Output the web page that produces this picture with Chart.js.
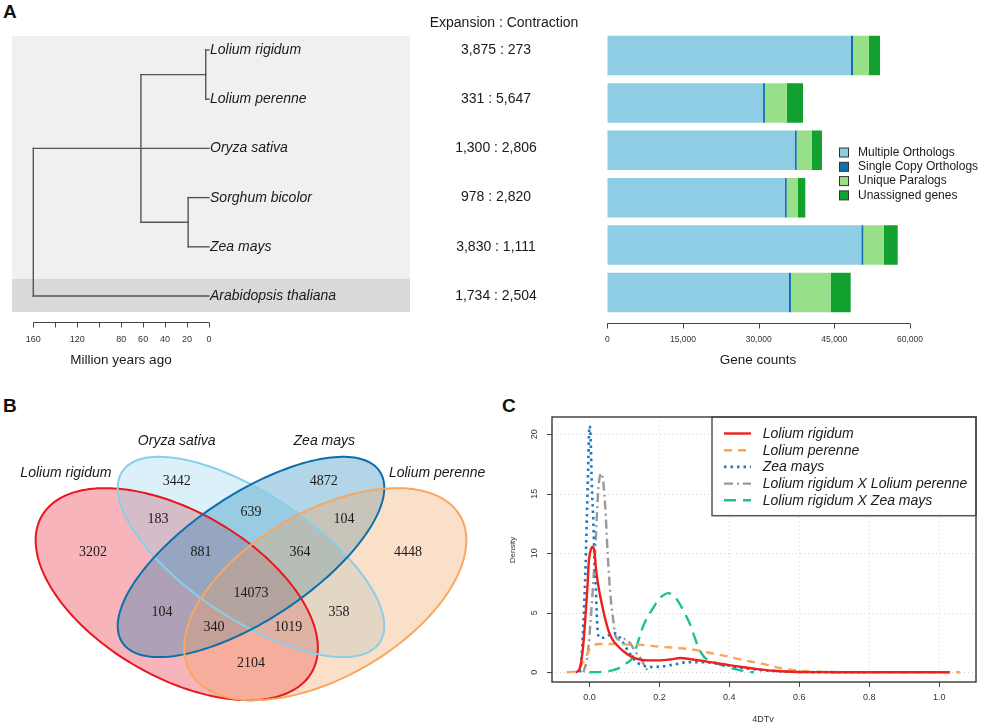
<!DOCTYPE html>
<html>
<head>
<meta charset="utf-8">
<script src="https://cdn.jsdelivr.net/npm/chart.js@4.4.1/dist/chart.umd.min.js"></script>
<style>
  body { margin: 0; background: #fff; width: 982px; height: 726px; position: relative; overflow: hidden;
         font-family: 'Liberation Sans', Arial, sans-serif; color: #111; }
  canvas { position: absolute; }
  .panel { position: absolute; font-weight: bold; font-size: 19px; line-height: 19px; }
</style>
</head>
<body>
<div class="panel" style="left:3px;top:2px">A</div>
<div class="panel" style="left:3px;top:396px">B</div>
<div class="panel" style="left:502px;top:396px">C</div>

<canvas id="chart-tree" width="590" height="380" style="left:0;top:0"></canvas>
<canvas id="chart-genes" width="392" height="380" style="left:590px;top:0"></canvas>
<canvas id="chart-venn" width="520" height="346" style="left:0;top:380px"></canvas>
<canvas id="chart-density" width="482" height="331" style="left:500px;top:395px"></canvas>

<script>
// ---- data: panel A ----
const species = ['Lolium rigidum', 'Lolium perenne', 'Oryza sativa', 'Sorghum bicolor', 'Zea mays', 'Arabidopsis thaliana'];
const expansion = [3875, 331, 1300, 978, 3830, 1734];
const contraction = [273, 5647, 2806, 2820, 1111, 2504];
// divergence times (million years ago): Lolium split, Sorghum/Zea split, grass split, root
const treeNodeAges = [3, 19, 62, 160];
const treeTicks = [160, 140, 120, 100, 80, 60, 40, 20, 0];
const treeTickLabels = ['160', '', '120', '', '80', '60', '40', '20', '0'];

const geneGroups = ['Multiple Orthologs', 'Single Copy Orthologs', 'Unique Paralogs', 'Unassigned genes'];
const multiOrtho = [48300, 30870, 37140, 35160, 50350, 36010];
const singleOrtho = [400, 370, 400, 400, 400, 390];
const uniqueParalogs = [3160, 4360, 3030, 2240, 4030, 7870];
const unassigned = [2200, 3190, 1980, 1450, 2780, 3970];
const geneTicks = [0, 15000, 30000, 45000, 60000];

// ---- data: panel B (Venn) ----
const setNames = ['Lolium rigidum', 'Oryza sativa', 'Zea mays', 'Lolium perenne'];
const setLabelX = [0.126, 0.35, 0.648, 0.876];
const setLabelY = [0.796, 0.882, 0.882, 0.796];
const ellipseCx = [0.35, 0.5, 0.5, 0.65];
const ellipseCy = [0.47, 0.57, 0.57, 0.47];
const ellipseA = [0.35, 0.35, 0.35, 0.35];
const ellipseB = [0.2, 0.15, 0.15, 0.2];
const ellipseRot = [135, 135, 45, 45];
const regionCounts = [3202, 3442, 4872, 4448, 183, 639, 104, 881, 364, 14073, 104, 358, 340, 1019, 2104];
const regionX = [0.181, 0.350, 0.647, 0.817, 0.312, 0.500, 0.688, 0.399, 0.599, 0.500, 0.320, 0.678, 0.425, 0.575, 0.500];
const regionY = [0.583, 0.772, 0.772, 0.583, 0.672, 0.691, 0.672, 0.583, 0.583, 0.473, 0.422, 0.422, 0.382, 0.382, 0.285];

// ---- data: panel C (4DTv density) ----
const rigidumX = [-0.04, -0.033, -0.025, -0.018, -0.012, -0.006, -0.002, 0.005, 0.01, 0.015, 0.019, 0.027, 0.035, 0.045, 0.054, 0.065, 0.083, 0.1, 0.121, 0.145, 0.17, 0.2, 0.23, 0.26, 0.29, 0.335, 0.38, 0.43, 0.48, 0.525, 0.6, 0.7, 0.8, 1.03];
const rigidumY = [0, 0.1, 0.6, 2.2, 4.4, 7.0, 9.2, 10.4, 10.55, 10.0, 8.6, 7.0, 5.8, 4.5, 3.55, 2.8, 2.15, 1.7, 1.3, 1.07, 1.0, 1.0, 1.07, 1.2, 1.1, 0.9, 0.7, 0.47, 0.27, 0.13, 0.03, 0.01, 0, 0];
const perenneX = [-0.065, -0.045, -0.03, -0.015, 0.0, 0.015, 0.03, 0.06, 0.1, 0.15, 0.2, 0.25, 0.29, 0.35, 0.4, 0.43, 0.47, 0.5, 0.526, 0.55, 0.6, 0.65, 0.7, 0.8, 0.9, 1.06];
const perenneY = [0, 0.05, 0.3, 1.0, 1.9, 2.3, 2.38, 2.38, 2.35, 2.3, 2.15, 2.05, 1.93, 1.6, 1.3, 1.09, 0.85, 0.68, 0.47, 0.33, 0.13, 0.05, 0.02, 0.01, 0, 0];
const zeaX = [-0.027, -0.022, -0.016, -0.011, -0.007, -0.003, 0.0, 0.003, 0.007, 0.011, 0.014, 0.018, 0.024, 0.03, 0.04, 0.055, 0.07, 0.085, 0.1, 0.115, 0.13, 0.15, 0.18, 0.21, 0.25, 0.28, 0.32, 0.36, 0.4, 0.45, 0.5, 0.55, 0.6, 0.7, 0.8];
const zeaY = [0, 1.5, 5.0, 9.0, 13.5, 18.0, 20.7, 20.0, 15.6, 12.8, 10.0, 7.2, 3.3, 2.9, 2.9, 3.1, 3.3, 3.0, 2.3, 1.6, 1.0, 0.6, 0.45, 0.5, 0.7, 0.85, 0.85, 0.75, 0.55, 0.32, 0.17, 0.08, 0.03, 0.01, 0];
const rigPerX = [-0.017, -0.005, 0.005, 0.016, 0.026, 0.035, 0.045, 0.052, 0.06, 0.068, 0.075, 0.09, 0.1, 0.115, 0.13, 0.15, 0.16, 0.175];
const rigPerY = [0, 1.5, 5.0, 10.0, 15.6, 16.7, 14.0, 10.0, 6.5, 4.4, 3.0, 2.7, 2.8, 2.5, 1.8, 1.0, 0.4, 0];
const rigZeaX = [0, 0.04, 0.07, 0.09, 0.105, 0.12, 0.135, 0.15, 0.165, 0.18, 0.195, 0.21, 0.225, 0.24, 0.255, 0.27, 0.285, 0.3, 0.31, 0.32, 0.335, 0.36, 0.39, 0.42, 0.45, 0.47];
const rigZeaY = [0, 0.05, 0.2, 0.45, 0.75, 1.1, 2.2, 3.6, 4.6, 5.3, 6.0, 6.45, 6.65, 6.45, 5.9, 5.1, 4.2, 3.0, 2.2, 1.6, 1.1, 0.8, 0.5, 0.25, 0.06, 0];
const densityLabels = ['Lolium rigidum', 'Lolium perenne', 'Zea mays', 'Lolium rigidum X Lolium perenne', 'Lolium rigidum X Zea mays'];
const densityXTicks = [0, 0.2, 0.4, 0.6, 0.8, 1.0];
const densityYTicks = [0, 5, 10, 15, 20];

Chart.defaults.font.family = "'Liberation Sans', Arial, sans-serif";
Chart.defaults.animation = false;
Chart.defaults.plugins.legend.display = false;
Chart.defaults.plugins.tooltip.enabled = false;

const TXT = '#1a1a1a';
const fmt = n => n.toLocaleString('en-US');
const zip = (xs, ys) => xs.map((x, i) => ({ x, y: ys[i] }));

// =============== A: tree ===============
const [tLol, tPan, tGrass, tRoot] = treeNodeAges;
const seg = (x1, y1, x2, y2) => ({
    data: [{ x: x1, y: y1 }, { x: x2, y: y2 }],
    showLine: true, borderColor: '#555', borderWidth: 1.4, pointRadius: 0, borderCapStyle: 'square'
});
const lolMid = 1.5, panMid = 4.5;
const treeSegments = [
    seg(tLol, 1, 0, 1), seg(tLol, 2, 0, 2), seg(tLol, 1, tLol, 2), seg(tGrass, lolMid, tLol, lolMid),
    seg(tPan, 4, 0, 4), seg(tPan, 5, 0, 5), seg(tPan, 4, tPan, 5), seg(tGrass, panMid, tPan, panMid),
    seg(tGrass, lolMid, tGrass, panMid),
    seg(tRoot, 3, 0, 3), seg(tRoot, 3, tRoot, 6), seg(tRoot, 6, 0, 6)
];

const treeDecor = {
    id: 'treeDecor',
    beforeDatasetsDraw(chart) {
        const { ctx, chartArea: a, scales: { y } } = chart;
        const split = y.getPixelForValue(species.length - 0.35);
        ctx.save();
        ctx.fillStyle = '#f0f0f0';
        ctx.fillRect(a.left, a.top, a.right - a.left, split - a.top);
        ctx.fillStyle = '#d9d9d9';
        ctx.fillRect(a.left, split, a.right - a.left, a.bottom - split);
        ctx.restore();
    },
    afterDraw(chart) {
        const { ctx, scales: { x, y } } = chart;
        ctx.save();
        ctx.fillStyle = TXT;
        ctx.textBaseline = 'middle';
        // species names
        ctx.font = "italic 14px 'Liberation Sans', Arial, sans-serif";
        ctx.textAlign = 'left';
        species.forEach((s, i) => ctx.fillText(s, x.getPixelForValue(0) + 1, y.getPixelForValue(i + 1)));
        // expansion : contraction
        ctx.font = "14px 'Liberation Sans', Arial, sans-serif";
        ctx.textAlign = 'center';
        ctx.fillText('Expansion : Contraction', 504, 23);
        species.forEach((s, i) => ctx.fillText(fmt(expansion[i]) + ' : ' + fmt(contraction[i]), 496, y.getPixelForValue(i + 1)));
        // time axis
        const axY = 322.5;
        ctx.strokeStyle = '#444';
        ctx.lineWidth = 1;
        ctx.beginPath();
        ctx.moveTo(x.getPixelForValue(treeTicks[0]), axY);
        ctx.lineTo(x.getPixelForValue(treeTicks[treeTicks.length - 1]), axY);
        treeTicks.forEach(t => {
            const px = Math.round(x.getPixelForValue(t)) + 0.5;
            ctx.moveTo(px, axY); ctx.lineTo(px, axY + 5);
        });
        ctx.stroke();
        ctx.font = "9px 'Liberation Sans', Arial, sans-serif";
        ctx.fillStyle = '#333';
        treeTicks.forEach((t, i) => ctx.fillText(treeTickLabels[i], x.getPixelForValue(t), 340));
        ctx.font = "13.5px 'Liberation Sans', Arial, sans-serif";
        ctx.fillStyle = TXT;
        ctx.fillText('Million years ago', 121, 360);
        ctx.restore();
    }
};

new Chart(document.getElementById('chart-tree'), {
    type: 'scatter',
    data: { datasets: treeSegments },
    options: {
        responsive: false,
        layout: { padding: { left: 12, top: 36, right: 180, bottom: 68 } },
        scales: {
            x: { type: 'linear', reverse: true, min: -183, max: 179.4, display: false },
            y: { type: 'linear', reverse: true, min: 0.715, max: 6.325, display: false }
        }
    },
    plugins: [treeDecor]
});

// =============== A: gene counts ===============
const geneColors = ['#8ecde4', '#0f6fb0', '#98df8a', '#12a02f'];
const geneSeries = [multiOrtho, singleOrtho, uniqueParalogs, unassigned];

const geneDecor = {
    id: 'geneDecor',
    afterDraw(chart) {
        const { ctx, scales: { x } } = chart;
        ctx.save();
        const axY = 323.5;
        ctx.strokeStyle = '#444';
        ctx.lineWidth = 1;
        ctx.beginPath();
        ctx.moveTo(x.getPixelForValue(geneTicks[0]), axY);
        ctx.lineTo(x.getPixelForValue(geneTicks[geneTicks.length - 1]), axY);
        geneTicks.forEach(t => {
            const px = Math.round(x.getPixelForValue(t)) + 0.5;
            ctx.moveTo(px, axY); ctx.lineTo(px, axY + 5);
        });
        ctx.stroke();
        ctx.fillStyle = '#333';
        ctx.textAlign = 'center';
        ctx.textBaseline = 'middle';
        ctx.font = "8.5px 'Liberation Sans', Arial, sans-serif";
        geneTicks.forEach(t => ctx.fillText(fmt(t), x.getPixelForValue(t), 340));
        ctx.fillStyle = TXT;
        ctx.font = "13.5px 'Liberation Sans', Arial, sans-serif";
        ctx.fillText('Gene counts', 168, 360);
        // legend
        ctx.textAlign = 'left';
        ctx.font = "12px 'Liberation Sans', Arial, sans-serif";
        geneGroups.forEach((g, i) => {
            const cy = 152.5 + i * 14.3;
            ctx.fillStyle = geneColors[i];
            ctx.fillRect(249.5, cy - 4.5, 9, 9);
            ctx.strokeStyle = '#333';
            ctx.strokeRect(249.5, cy - 4.5, 9, 9);
            ctx.fillStyle = TXT;
            ctx.fillText(g, 268, cy);
        });
        ctx.restore();
    }
};

new Chart(document.getElementById('chart-genes'), {
    type: 'bar',
    data: {
        labels: species,
        datasets: geneGroups.map((g, i) => ({
            label: g, data: geneSeries[i], backgroundColor: geneColors[i],
            borderWidth: 0, barPercentage: 0.833, categoryPercentage: 1
        }))
    },
    options: {
        responsive: false,
        indexAxis: 'y',
        layout: { padding: { left: 17.3, top: 31.8, right: 72, bottom: 63.8 } },
        scales: {
            x: { stacked: true, min: 0, max: 60000, display: false },
            y: { stacked: true, display: false }
        }
    },
    plugins: [geneDecor]
});

// =============== B: Venn ===============
const vennFill = ['rgba(232,22,45,0.32)', 'rgba(135,206,235,0.3)', 'rgba(0,115,176,0.3)', 'rgba(244,160,90,0.33)'];
const vennStroke = ['#e8161f', '#86d0e8', '#0b6fae', '#f6a863'];

const vennDecor = {
    id: 'vennDecor',
    beforeDatasetsDraw(chart) {
        const { ctx, scales: { x, y } } = chart;
        const path = i => {
            const r = ellipseRot[i] * Math.PI / 180;
            ctx.beginPath();
            for (let k = 0; k <= 180; k++) {
                const t = k / 180 * Math.PI * 2;
                const dx = ellipseA[i] * Math.cos(t), dy = ellipseB[i] * Math.sin(t);
                const px = x.getPixelForValue(ellipseCx[i] + dx * Math.cos(r) - dy * Math.sin(r));
                const py = y.getPixelForValue(ellipseCy[i] + dx * Math.sin(r) + dy * Math.cos(r));
                k === 0 ? ctx.moveTo(px, py) : ctx.lineTo(px, py);
            }
            ctx.closePath();
        };
        ctx.save();
        setNames.forEach((_, i) => { path(i); ctx.fillStyle = vennFill[i]; ctx.fill(); });
        ctx.lineWidth = 2;
        setNames.forEach((_, i) => { path(i); ctx.strokeStyle = vennStroke[i]; ctx.stroke(); });
        ctx.fillStyle = TXT;
        ctx.textAlign = 'center';
        ctx.textBaseline = 'middle';
        ctx.font = "italic 14px 'Liberation Sans', Arial, sans-serif";
        setNames.forEach((s, i) => ctx.fillText(s, x.getPixelForValue(setLabelX[i]), y.getPixelForValue(setLabelY[i])));
        ctx.restore();
    },
    afterDatasetsDraw(chart) {
        const { ctx } = chart;
        const meta = chart.getDatasetMeta(0);
        ctx.save();
        ctx.fillStyle = TXT;
        ctx.textAlign = 'center';
        ctx.textBaseline = 'middle';
        ctx.font = "14px 'Liberation Serif', 'Times New Roman', serif";
        meta.data.forEach((pt, i) => ctx.fillText(String(regionCounts[i]), pt.x, pt.y));
        ctx.restore();
    }
};

new Chart(document.getElementById('chart-venn'), {
    type: 'scatter',
    data: { datasets: [{ data: zip(regionX, regionY), pointRadius: 0 }] },
    options: {
        responsive: false,
        layout: { padding: 0 },
        scales: {
            x: { type: 'linear', min: -0.00707, max: 1.0434, display: false },
            y: { type: 'linear', min: 0.1156, max: 1.0457, display: false }
        }
    },
    plugins: [vennDecor]
});

// =============== C: density ===============
const densitySeries = [
    { data: zip(rigidumX, rigidumY), borderColor: '#f01e1e', borderWidth: 2.4, borderDash: [] },
    { data: zip(perenneX, perenneY), borderColor: '#fca552', borderWidth: 2.4, borderDash: [8, 6] },
    { data: zip(zeaX, zeaY), borderColor: '#1a7bc0', borderWidth: 2.6, borderDash: [2.5, 4] },
    { data: zip(rigPerX, rigPerY), borderColor: '#999999', borderWidth: 2.4, borderDash: [9, 4, 2, 4] },
    { data: zip(rigZeaX, rigZeaY), borderColor: '#1fbf96', borderWidth: 2.4, borderDash: [12, 7] }
].map((d, i) => Object.assign(d, {
    label: densityLabels[i], showLine: true, pointRadius: 0, fill: false,
    cubicInterpolationMode: 'monotone'
}));

const densityDecor = {
    id: 'densityDecor',
    beforeDatasetsDraw(chart) {
        const { ctx, chartArea: a, scales: { x, y } } = chart;
        ctx.save();
        ctx.strokeStyle = '#d4d4d4';
        ctx.lineWidth = 1;
        ctx.setLineDash([1, 3]);
        ctx.beginPath();
        densityXTicks.forEach(t => {
            const px = Math.round(x.getPixelForValue(t)) + 0.5;
            ctx.moveTo(px, a.top); ctx.lineTo(px, a.bottom);
        });
        densityYTicks.forEach(t => {
            const py = Math.round(y.getPixelForValue(t)) + 0.5;
            ctx.moveTo(a.left, py); ctx.lineTo(a.right, py);
        });
        ctx.stroke();
        ctx.restore();
    },
    afterDatasetsDraw(chart) {
        const { ctx, chartArea: a, scales: { x, y } } = chart;
        ctx.save();
        // legend box
        const lx = 212, ly = a.top, lw = a.right - 212, lh = 98.7;
        ctx.fillStyle = '#fff';
        ctx.fillRect(lx, ly, lw, lh);
        ctx.strokeStyle = '#555';
        ctx.lineWidth = 1.5;
        ctx.strokeRect(lx, ly, lw, lh);
        ctx.textAlign = 'left';
        ctx.textBaseline = 'middle';
        ctx.font = "italic 14px 'Liberation Sans', Arial, sans-serif";
        chart.data.datasets.forEach((ds, i) => {
            const cy = 38.5 + i * 16.7;
            ctx.strokeStyle = ds.borderColor;
            ctx.lineWidth = ds.borderWidth;
            ctx.setLineDash(ds.borderDash);
            ctx.beginPath();
            ctx.moveTo(224, cy); ctx.lineTo(251, cy);
            ctx.stroke();
            ctx.setLineDash([]);
            ctx.fillStyle = TXT;
            ctx.fillText(ds.label, 262.7, cy + 0.5);
        });
        // frame and axes
        ctx.strokeStyle = '#444';
        ctx.lineWidth = 1.5;
        ctx.strokeRect(a.left, a.top, a.right - a.left, a.bottom - a.top);
        ctx.lineWidth = 1;
        ctx.beginPath();
        densityXTicks.forEach(t => {
            const px = Math.round(x.getPixelForValue(t)) + 0.5;
            ctx.moveTo(px, a.bottom); ctx.lineTo(px, a.bottom + 5);
        });
        densityYTicks.forEach(t => {
            const py = Math.round(y.getPixelForValue(t)) + 0.5;
            ctx.moveTo(a.left, py); ctx.lineTo(a.left - 5, py);
        });
        ctx.stroke();
        ctx.fillStyle = '#333';
        ctx.textAlign = 'center';
        ctx.font = "9px 'Liberation Sans', Arial, sans-serif";
        densityXTicks.forEach(t => ctx.fillText(t.toFixed(1), x.getPixelForValue(t), 303));
        densityYTicks.forEach(t => {
            ctx.save();
            ctx.translate(35, y.getPixelForValue(t));
            ctx.rotate(-Math.PI / 2);
            ctx.fillText(String(t), 0, 0);
            ctx.restore();
        });
        ctx.fillText('4DTv', 263, 325);
        ctx.font = "8px 'Liberation Sans', Arial, sans-serif";
        ctx.save();
        ctx.translate(13, 155);
        ctx.rotate(-Math.PI / 2);
        ctx.fillText('Density', 0, 0);
        ctx.restore();
        ctx.restore();
    }
};

new Chart(document.getElementById('chart-density'), {
    type: 'scatter',
    data: { datasets: densitySeries },
    options: {
        responsive: false,
        layout: { padding: { left: 52, top: 22, right: 6, bottom: 44 } },
        scales: {
            x: { type: 'linear', min: -0.107, max: 1.105, display: false },
            y: { type: 'linear', min: -0.815, max: 21.45, display: false }
        }
    },
    plugins: [densityDecor]
});
</script>
</body>
</html>
